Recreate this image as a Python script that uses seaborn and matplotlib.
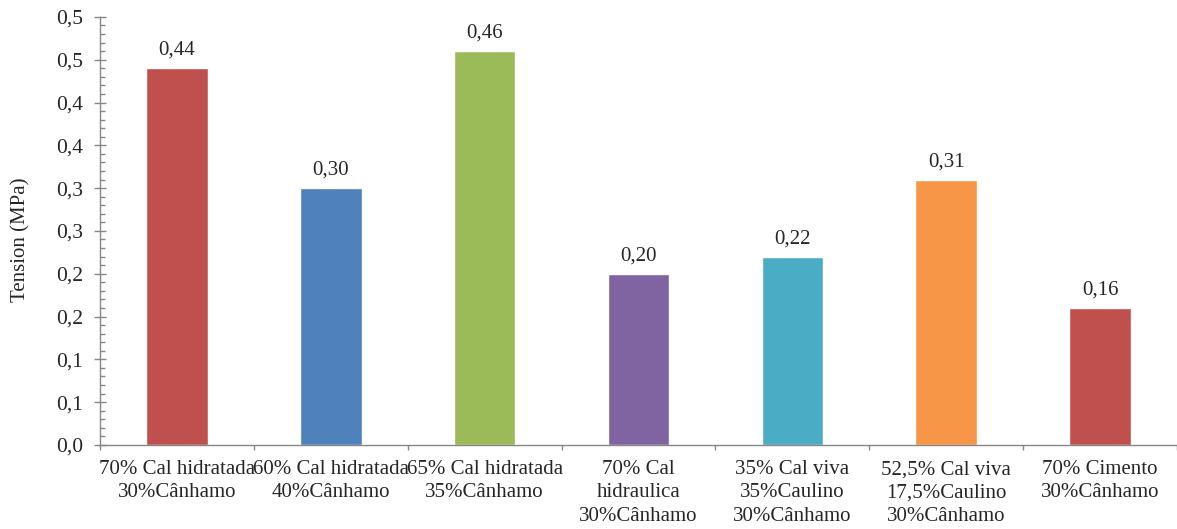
import math
import matplotlib
matplotlib.use("Agg")
import matplotlib.pyplot as plt
from matplotlib.ticker import MultipleLocator, FuncFormatter, FixedLocator
import seaborn as sns
import pandas as pd

categories = [
    "70% Cal hidratada\n30%Cânhamo",
    "60% Cal hidratada\n40%Cânhamo",
    "65% Cal hidratada\n35%Cânhamo",
    "70% Cal\nhidraulica\n30%Cânhamo",
    "35% Cal viva\n35%Caulino\n30%Cânhamo",
    "52,5% Cal viva\n17,5%Caulino\n30%Cânhamo",
    "70% Cimento\n30%Cânhamo",
]
tension = [0.44, 0.30, 0.46, 0.20, 0.22, 0.31, 0.16]
colors = ["#C0504D", "#4F81BD", "#9BBB59", "#8064A2", "#4BACC6", "#F79646", "#C0504D"]

sns.set_theme(style="white")
plt.rcParams["font.family"] = ["Liberation Serif", "DejaVu Serif"]
plt.rcParams["font.size"] = 15

df = pd.DataFrame({"cat": categories, "val": tension})

fig = plt.figure(figsize=(11.77, 5.29), dpi=100)
ax = fig.add_axes([0.085, 0.159, 0.915, 0.809])

sns.barplot(data=df, x="cat", y="val", hue="cat", palette=colors,
            legend=False, width=0.4, saturation=1, ax=ax)

axis_gray = "#868686"
for side in ("top", "right"):
    ax.spines[side].set_visible(False)
for side in ("left", "bottom"):
    ax.spines[side].set_color(axis_gray)
    ax.spines[side].set_linewidth(1.0)

ax.set_xlim(-0.5, len(categories) - 0.5)
ax.set_ylim(0, 0.5)


def comma_fmt(v, pos):
    r = math.floor(v * 10 + 0.5 + 1e-9) / 10
    return f"{r:.1f}".replace(".", ",")


ax.yaxis.set_major_locator(MultipleLocator(0.05))
ax.yaxis.set_minor_locator(MultipleLocator(0.01))
ax.yaxis.set_major_formatter(FuncFormatter(comma_fmt))
ax.tick_params(axis="y", which="major", direction="inout", length=8.6, width=1,
               color=axis_gray, labelsize=15.5, pad=8, left=True)
ax.tick_params(axis="y", which="minor", direction="in", length=3.6, width=1,
               color=axis_gray, left=True)

# category separators on the x axis
ax.xaxis.set_minor_locator(FixedLocator([i - 0.5 for i in range(len(categories) + 1)]))
ax.tick_params(axis="x", which="major", length=0, labelsize=15, pad=11)
ax.tick_params(axis="x", which="minor", direction="out", length=3.5, width=1,
               color=axis_gray, bottom=True)
for lbl in ax.get_xticklabels():
    lbl.set_linespacing(1.3)

ax.set_xlabel("")
ax.set_ylabel("Tension (MPa)", fontsize=15, labelpad=18)
ax.yaxis.label.set_y(0.48)

for i, v in enumerate(tension):
    ax.annotate(f"{v:.2f}".replace(".", ","), (i, v), xytext=(0, 6),
                textcoords="offset points", ha="center", va="bottom", fontsize=15)

fig.savefig("out.png", dpi=100)
